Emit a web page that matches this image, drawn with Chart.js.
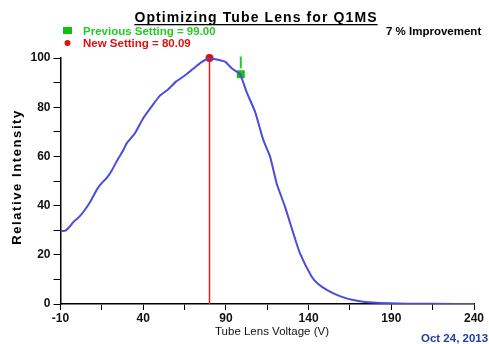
<!DOCTYPE html>
<html>
<head>
<meta charset="utf-8">
<script src="https://cdn.jsdelivr.net/npm/chart.js@4"></script>
<style>
  html, body { margin: 0; padding: 0; background: #fff; }
  #wrap { width: 489px; height: 344px; position: relative; }
</style>
</head>
<body>
<div id="wrap"><canvas id="chart"></canvas></div>
<script>
// Scan data
const voltages = [-10, -7, -4, -2, 1, 4, 8, 12, 15, 18, 21, 25, 28, 30, 35, 40, 45, 50, 55, 60, 65, 70, 75, 80,
  83, 86, 89.5, 93.5, 98.5, 102.6, 107.6, 112.6, 116.7, 120.7, 125.7, 130.8, 134.8, 141.9, 146, 151, 156, 161,
  167, 173, 181, 189, 200, 215, 240];
const intensities = [29.7, 29.8, 31.8, 33.5, 35.2, 37.6, 41.6, 46.5, 49.2, 51.3, 54.3, 59.2, 62.6, 65.3, 69.4,
  75.5, 80.2, 84.6, 87.2, 90.5, 92.8, 95.5, 98.2, 100, 99.6, 99.2, 98.5, 95.8, 93.4, 86, 78.2, 66.7, 59.9, 49, 39.6,
  28.7, 20.6, 11.1, 8, 5.7, 4, 2.7, 1.6, 0.9, 0.5, 0.3, 0.15, 0.1, 0];

const previousSetting = 99.00;
const previousIntensity = 93.4;
const newSetting = 80.09;
const newIntensity = 100;

const xTickValues = [-10, 15, 40, 65, 90, 115, 140, 165, 190, 215, 240];
const xTickLabels = ['-10', '', '40', '', '90', '', '140', '', '190', '', '240'];
const yTickLabels = ['0', '20', '40', '60', '80', '100'];

const FONT = 'Liberation Sans, Arial, sans-serif';

// Draws title, legend notes, axis titles and the date stamp
const annotations = {
  id: 'annotations',
  afterDraw(chart) {
    const ctx = chart.ctx;
    ctx.save();
    ctx.textBaseline = 'alphabetic';

    // title with underline
    ctx.font = 'bold 14px ' + FONT;
    ctx.letterSpacing = '1.1px';
    ctx.fillStyle = '#000';
    ctx.textAlign = 'center';
    const title = 'Optimizing Tube Lens for Q1MS';
    ctx.fillText(title, 256, 22);
    const tw = ctx.measureText(title).width;
    ctx.fillRect(256 - tw / 2, 24, tw, 1.3);
    ctx.letterSpacing = '0px';

    // legend
    ctx.textAlign = 'left';
    ctx.font = 'bold 11.5px ' + FONT;
    ctx.fillStyle = '#10c010';
    ctx.fillRect(63, 27, 9, 7);
    ctx.fillStyle = '#22cc22';
    ctx.fillText('Previous Setting = ' + previousSetting.toFixed(2), 83, 35);
    ctx.fillStyle = '#e01010';
    ctx.beginPath();
    ctx.arc(67.5, 43, 3, 0, Math.PI * 2);
    ctx.fill();
    ctx.fillText('New Setting = ' + newSetting.toFixed(2), 83, 47);

    ctx.fillStyle = '#000';
    ctx.fillText('7 % Improvement', 386, 35);

    ctx.fillStyle = '#2040a8';
    ctx.fillText('Oct 24, 2013', 421, 342);

    // x title
    ctx.textAlign = 'center';
    ctx.font = '11.5px ' + FONT;
    ctx.fillStyle = '#111';
    ctx.fillText('Tube Lens Voltage (V)', 272, 335);

    // rotated y title
    ctx.translate(17, 177);
    ctx.rotate(-Math.PI / 2);
    ctx.font = 'bold 13px ' + FONT;
    ctx.letterSpacing = '1.6px';
    ctx.fillStyle = '#000';
    ctx.fillText('Relative Intensity', 0, 4);
    ctx.restore();
  }
};

new Chart(document.getElementById('chart'), {
  type: 'line',
  data: {
    datasets: [
      {
        data: voltages.map((v, i) => ({ x: v, y: intensities[i] })),
        borderColor: '#4b4bdc',
        borderWidth: 2,
        pointRadius: 0,
        tension: 0.2
      },
      {
        data: [{ x: newSetting, y: 0 }, { x: newSetting, y: newIntensity }],
        borderColor: '#e02020',
        borderWidth: 1.5,
        pointRadius: [0, 4],
        pointBackgroundColor: '#dd1111',
        pointBorderWidth: 0,
        clip: false
      },
      {
        data: [{ x: previousSetting, y: 95.8 }, { x: previousSetting, y: 100.6 }],
        borderColor: '#22cc22',
        borderWidth: 2,
        pointRadius: 0,
        clip: false
      },
      {
        data: [{ x: previousSetting, y: previousIntensity }],
        pointStyle: 'rect',
        pointRadius: 5.6,
        pointBackgroundColor: '#11c011',
        pointBorderWidth: 0,
        showLine: false,
        clip: false
      }
    ]
  },
  options: {
    responsive: true,
    maintainAspectRatio: false,
    animation: false,
    devicePixelRatio: 1,
    layout: { padding: { top: 58, right: 15, left: 0, bottom: 0 } },
    plugins: {
      legend: { display: false },
      tooltip: { enabled: false }
    },
    scales: {
      x: {
        type: 'linear',
        min: -10,
        max: 240,
        afterFit: s => { s.height = 40; },
        afterBuildTicks: s => { s.ticks = xTickValues.map(v => ({ value: v })); },
        grid: { display: true, drawOnChartArea: false, drawTicks: true, tickLength: 6, color: '#000', lineWidth: 1 },
        border: { display: true, color: '#000', width: 1.5 },
        ticks: {
          autoSkip: false,
          maxRotation: 0,
          padding: 1,
          color: '#111',
          font: { family: FONT, size: 12, weight: 'bold' },
          callback: (v, i) => xTickLabels[i]
        }
      },
      y: {
        min: 0,
        max: 100,
        afterFit: s => { s.width = 60.5; },
        grid: { display: true, drawOnChartArea: false, drawTicks: true, tickLength: 7, color: '#000', lineWidth: 1 },
        border: { display: true, color: '#000', width: 1.5 },
        ticks: {
          stepSize: 10,
          autoSkip: false,
          padding: 3,
          color: '#111',
          font: { family: FONT, size: 12, weight: 'bold' },
          callback: v => (v % 20 === 0 ? yTickLabels[v / 20] : '')
        }
      }
    }
  },
  plugins: [annotations]
});
</script>
</body>
</html>
